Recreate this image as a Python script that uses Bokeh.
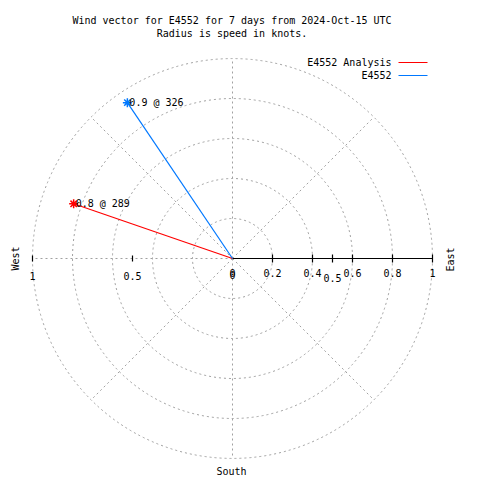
import numpy as np
from bokeh.plotting import figure
from bokeh.models import Range1d
from bokeh.core.properties import value
from bokeh.embed import file_html
from bokeh.resources import INLINE

# ---- data ----
series_names = ["E4552 Analysis", "E4552"]
speeds = [0.84, 0.94]          # knots
directions = [289, 326]        # degrees (compass)
series_colors = ["#ff0000", "#0078ff"]

ring_values = [0.2, 0.4, 0.6, 0.8, 1.0]
spoke_angles = [0, 45, 90, 135, 180, 225, 270, 315]
right_ticks = [0.2, 0.4, 0.5, 0.6, 0.8, 1.0]
right_tick_labels = ["0.2", "0.4", "0.6", "0.8", "1"]
right_tick_label_pos = [0.2, 0.4, 0.6, 0.8, 1.0]
left_ticks = [-0.5, -1.0]
left_tick_labels = ["0.5", "1"]

title1 = "Wind vector for E4552 for 7 days from 2024-Oct-15 UTC"
title2 = "Radius is speed in knots."

FONT = value("DejaVu Sans Mono")
FS = "10px"
GRID = "#a0a0a0"

# pixel scale: 1 knot = 200 px, centre at canvas (232, 258)
S = 200.0
W = H = 480
CX, CY = 232, 258
def dx(px):
    return (px - CX) / S
def dy(py):
    return (CY - py) / S

p = figure(width=W, height=H, output_backend="svg", toolbar_location=None,
           x_range=Range1d(-CX / S, (W - CX) / S), y_range=Range1d(-(H - CY) / S, CY / S),
           x_axis_type=None, y_axis_type=None, min_border=0)
p.outline_line_color = None
p.grid.visible = False
p.background_fill_color = "white"
p.border_fill_color = "white"

# rings
p.circle(x=[0] * len(ring_values), y=[0] * len(ring_values), radius=ring_values,
         fill_color=None, line_color=GRID, line_dash="2 3", line_width=1)

# spokes
ang = np.radians(spoke_angles)
p.segment(x0=[0] * len(ang), y0=[0] * len(ang), x1=np.sin(ang), y1=np.cos(ang),
          line_color=GRID, line_dash="2 3", line_width=1)

# axis (right half solid)
p.segment(x0=[0], y0=[0], x1=[1.0], y1=[0], line_color="black", line_width=1.2)
t = 4 / S
p.segment(x0=right_ticks, y0=[-t] * len(right_ticks), x1=right_ticks, y1=[t] * len(right_ticks),
          line_color="black", line_width=1.2)
t2 = 3 / S
p.segment(x0=left_ticks, y0=[-t2] * len(left_ticks), x1=left_ticks, y1=[t2] * len(left_ticks),
          line_color="black", line_width=1.2)

# tick labels
p.text(x=right_tick_label_pos, y=[dy(272)] * len(right_tick_label_pos), text=right_tick_labels,
       text_font=FONT, text_font_size=FS, text_align="center", text_baseline="middle", text_color="black")
p.text(x=[0.5], y=[dy(277)], text=["0.5"], text_font=FONT, text_font_size=FS,
       text_align="center", text_baseline="middle", text_color="black")
p.text(x=left_ticks, y=[dy(275)] * len(left_ticks), text=left_tick_labels,
       text_font=FONT, text_font_size=FS, text_align="center", text_baseline="middle", text_color="black")
p.text(x=[0, 0], y=[dy(272), dy(274)], text=["0", "0"], text_font=FONT, text_font_size=FS,
       text_align="center", text_baseline="middle", text_color="black")

# compass labels
p.text(x=[dx(15)], y=[dy(258)], text=["West"], angle=np.pi / 2, text_font=FONT, text_font_size=FS,
       text_align="center", text_baseline="middle", text_color="black")
p.text(x=[dx(450)], y=[dy(259)], text=["East"], angle=np.pi / 2, text_font=FONT, text_font_size=FS,
       text_align="center", text_baseline="middle", text_color="black")
p.text(x=[dx(231)], y=[dy(471)], text=["South"], text_font=FONT, text_font_size=FS,
       text_align="center", text_baseline="middle", text_color="black")

# title
p.text(x=[dx(231.5), dx(231.5)], y=[dy(20), dy(33)], text=[title1, title2], text_font=FONT,
       text_font_size=FS, text_align="center", text_baseline="middle", text_color="black")

# data vectors
for name, spd, d, c, ly in zip(series_names, speeds, directions, series_colors, [62, 75]):
    th = np.radians(d)
    xe, ye = spd * np.sin(th), spd * np.cos(th)
    p.segment(x0=[0], y0=[0], x1=[xe], y1=[ye], line_color=c, line_width=1.2)
    p.scatter(x=[xe], y=[ye], marker="asterisk", size=9, line_color=c, line_width=1.5)
    p.text(x=[xe], y=[ye], text=[f"{round(spd, 1)} @ {d}"], x_offset=2, text_font=FONT,
           text_font_size=FS, text_align="left", text_baseline="middle", text_color="black")
    # legend entry
    p.text(x=[dx(391)], y=[dy(ly)], text=[name], text_font=FONT, text_font_size=FS,
           text_align="right", text_baseline="middle", text_color="black")
    p.segment(x0=[dx(398)], y0=[dy(ly)], x1=[dx(427)], y1=[dy(ly)], line_color=c, line_width=1.2)

open("out.html", "w").write(file_html(p, INLINE))
